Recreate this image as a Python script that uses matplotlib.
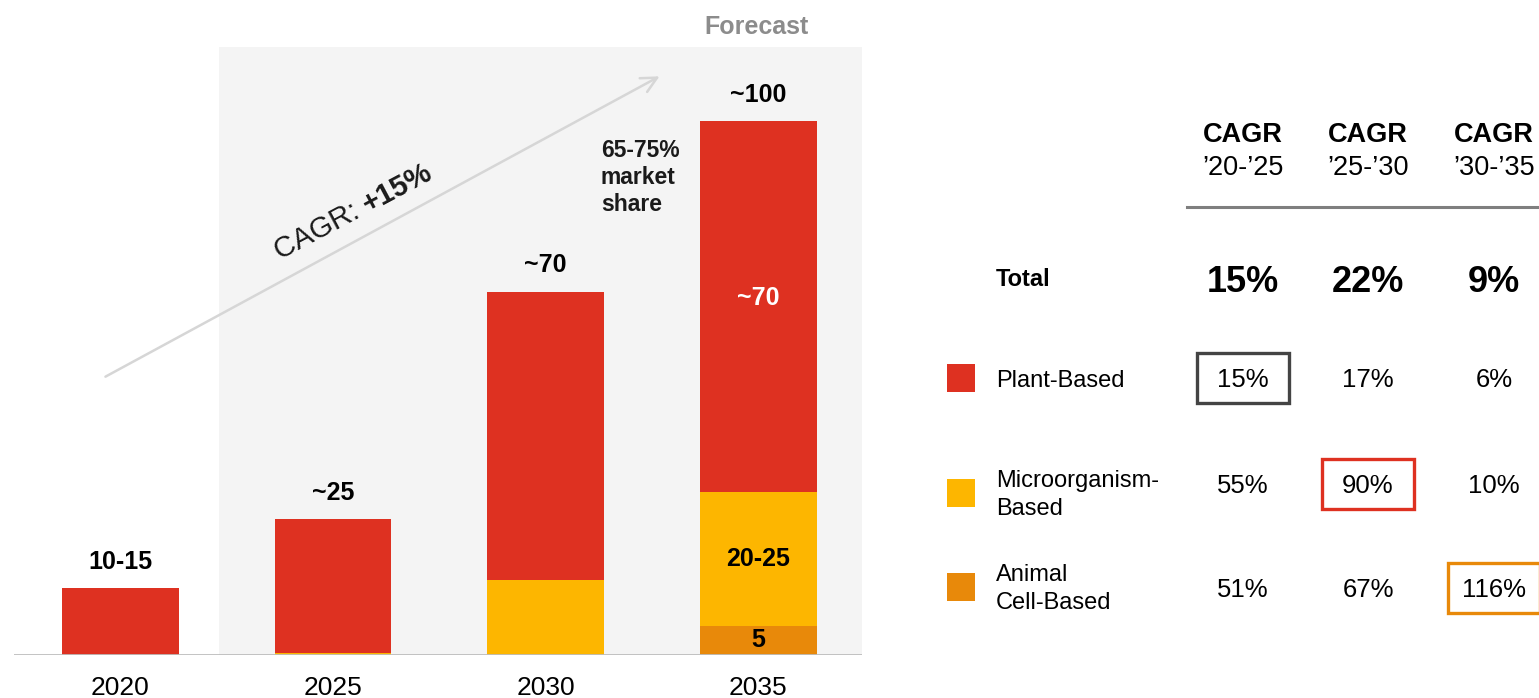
import matplotlib
matplotlib.use("Agg")
import matplotlib.pyplot as plt
from matplotlib.patches import Rectangle

plt.rcParams['font.family'] = ['Liberation Sans', 'DejaVu Sans']

# ---------------- data ----------------
years = ['2020', '2025', '2030', '2035']
plant = [12.5, 25.0, 54.0, 69.5]
micro = [0.0, 0.4, 14.0, 25.0]
animal = [0.0, 0.0, 0.0, 5.5]
total_labels = ['10-15', '~25', '~70', '~100']
seg_labels_2035 = ['~70', '20-25', '5']   # plant, micro, animal

segments = ['Plant-Based', 'Microorganism-\nBased', 'Animal\nCell-Based']
periods = ['’20-’25', '’25-’30', '’30-’35']
total_cagr = ['15%', '22%', '9%']
plant_cagr = ['15%', '17%', '6%']
micro_cagr = ['55%', '90%', '10%']
animal_cagr = ['51%', '67%', '116%']
highlight_cols = [0, 1, 2]   # highlighted column per segment row

RED = '#DE3121'
YELLOW = '#FDB600'
ORANGE = '#E8890A'
colors = [RED, YELLOW, ORANGE]
box_colors = ['#444444', RED, ORANGE]

W, H = 1539, 698
fig = plt.figure(figsize=(W / 100, H / 100), dpi=100)


def fx(px):
    return px / W


def fy(py):
    return 1 - py / H


# ---------------- bar chart ----------------
ax = fig.add_axes([fx(14), fy(655), (862 - 14) / W, (655 - 47) / H])
ax.set_xlim(-0.501, 3.489)
ax.set_ylim(0, 113.86)
ax.axvspan(0.4635, 3.489, color='#F4F4F4', zorder=0, lw=0)

x = list(range(len(years)))
bw = 0.55
bottom_micro = animal
bottom_plant = [a + m for a, m in zip(animal, micro)]
ax.bar(x, animal, bw, color=ORANGE, zorder=2)
ax.bar(x, micro, bw, bottom=bottom_micro, color=YELLOW, zorder=2)
ax.bar(x, plant, bw, bottom=bottom_plant, color=RED, zorder=2)
ax.axhline(0, color='#BDBDBD', lw=2.0, zorder=3)

totals = [p + m + a for p, m, a in zip(plant, micro, animal)]
for i, (t, lab) in enumerate(zip(totals, total_labels)):
    ax.annotate(lab, xy=(i, t), xytext=(0, 19), textcoords='offset points',
                ha='center', va='center', fontsize=18, fontweight='bold', color='black')

# segment labels in 2035
i = 3
ax.annotate(seg_labels_2035[0], xy=(i, bottom_plant[i] + plant[i] / 2), xytext=(0, 6),
            textcoords='offset points', ha='center', va='center',
            fontsize=18, fontweight='bold', color='white')
ax.text(i, bottom_micro[i] + micro[i] / 2, seg_labels_2035[1], ha='center', va='center',
        fontsize=18, fontweight='bold', color='black')
ax.text(i, animal[i] / 2, seg_labels_2035[2], ha='center', va='center',
        fontsize=18, fontweight='bold', color='black')

ax.set_xticks(x, years)
ax.tick_params(axis='x', length=0, pad=15, labelsize=19)
ax.set_yticks([])
for s in ax.spines.values():
    s.set_visible(False)

# annotations
fig.text(fx(757), fy(27), 'Forecast', ha='center', va='center', fontsize=18,
         fontweight='bold', color='#8C8C8C')
fig.text(fx(601), fy(139), '65-75%\nmarket\nshare', ha='left', va='top', fontsize=16.5,
         fontweight='bold', color='#1a1a1a', linespacing=1.23)

ax.annotate('', xy=(fx(662), fy(75)), xytext=(fx(103), fy(378)),
            xycoords='figure fraction', textcoords='figure fraction',
            arrowprops=dict(arrowstyle='->', color='#D6D6D6', lw=1.8, mutation_scale=28),
            annotation_clip=False)
jx, jy = fx(368), fy(213)
fig.text(jx, jy, 'CAGR: ', rotation=28, rotation_mode='anchor', ha='right', va='baseline',
         fontsize=21, color='#1a1a1a')
fig.text(jx, jy, '+15%', rotation=28, rotation_mode='anchor', ha='left', va='baseline',
         fontsize=21, fontweight='bold', color='#1a1a1a')

# ---------------- table ----------------
col_x = [1243, 1368, 1494]
for cx, per in zip(col_x, periods):
    fig.text(fx(cx), fy(135), 'CAGR', ha='center', va='center', fontsize=19.5,
             fontweight='bold', color='black')
    fig.text(fx(cx), fy(168), per, ha='center', va='center', fontsize=19.5, color='black')

fig.add_artist(plt.Line2D([fx(1187), fx(1539)], [fy(207), fy(207)], color='#7F7F7F',
                          lw=2.2, transform=fig.transFigure))

fig.text(fx(996), fy(280), 'Total', ha='left', va='center', fontsize=17,
         fontweight='bold', color='black')
for cx, v in zip(col_x, total_cagr):
    fig.text(fx(cx), fy(282), v, ha='center', va='center', fontsize=26,
             fontweight='bold', color='black')

value_y = [378, 484, 588]
label_y = [378, 492, 586]
row_vals = [plant_cagr, micro_cagr, animal_cagr]
for r, (vy, ly, seg, vals, col) in enumerate(zip(value_y, label_y, segments, row_vals, colors)):
    sq_y = vy if r == 0 else ly + 1
    fig.add_artist(Rectangle((fx(947), fy(sq_y + 14)), 28 / W, 28 / H, facecolor=col,
                             edgecolor='none', transform=fig.transFigure))
    fig.text(fx(996), fy(ly + 3), seg, ha='left', va='center', fontsize=17,
             color='black', linespacing=1.4)
    for cx, v in zip(col_x, vals):
        fig.text(fx(cx), fy(vy + 2), v, ha='center', va='center', fontsize=18.5, color='black')
    bx = col_x[highlight_cols[r]]
    fig.add_artist(Rectangle((fx(bx - 46), fy(vy + 25)), 92 / W, 50 / H, facecolor='none',
                             edgecolor=box_colors[r], lw=2.4, transform=fig.transFigure))

fig.savefig('out.png', dpi=100)
